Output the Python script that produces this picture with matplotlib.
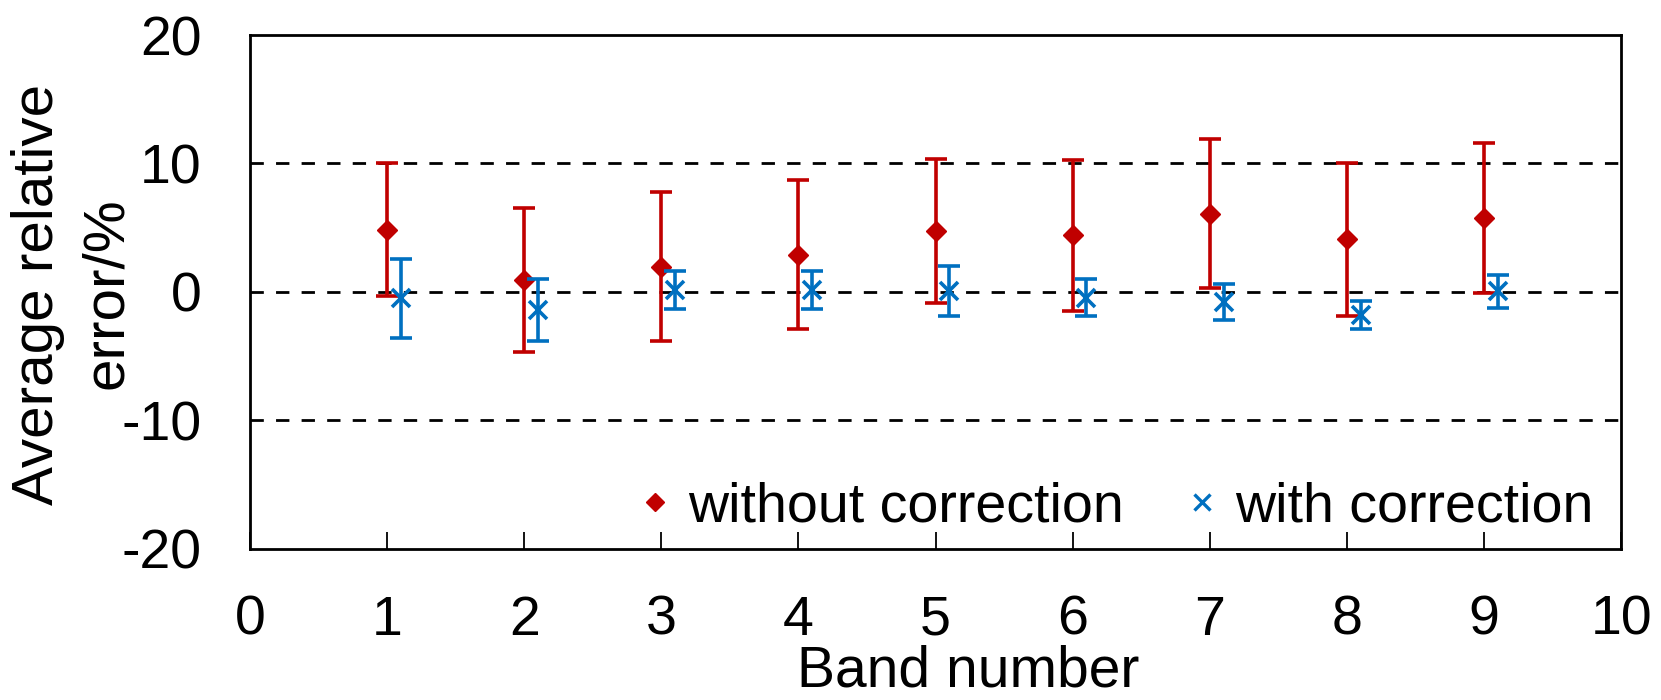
import matplotlib
matplotlib.use('Agg')
import matplotlib.pyplot as plt
from matplotlib.lines import Line2D
import numpy as np

plt.rcParams['font.family'] = ['Liberation Sans', 'DejaVu Sans']
plt.rcParams['axes.unicode_minus'] = False

# values
bands = np.arange(1, 10)
without_mean = [4.85, 0.9, 1.95, 2.9, 4.75, 4.4, 6.1, 4.1, 5.75]
without_err = [5.15, 5.6, 5.8, 5.8, 5.6, 5.9, 5.8, 5.95, 5.85]
with_mean = [-0.5, -1.4, 0.15, 0.15, 0.05, -0.45, -0.8, -1.8, 0.05]
with_err = [3.1, 2.4, 1.5, 1.45, 1.95, 1.43, 1.42, 1.1, 1.3]
x_ticks = list(range(0, 11))
y_ticks = [-20, -10, 0, 10, 20]

red = '#C00000'
blue = '#0070C0'
fs = 40

fig = plt.figure(figsize=(16.61, 7.0), dpi=100)
ax = fig.add_axes([0.1505, 0.216, 0.8255, 0.734])

ax.errorbar(bands, without_mean, yerr=without_err, fmt='D', color=red, ms=10,
            elinewidth=2.6, capsize=8, capthick=2.6, zorder=3)
ax.errorbar(bands + 0.1, with_mean, yerr=with_err, fmt='x', color=blue, ms=13,
            mew=2.6, elinewidth=2.6, capsize=8, capthick=2.6, zorder=4)

ax.set_xlim(0, 10)
ax.set_ylim(-20, 20)
ax.set_xticks(x_ticks)
ax.set_yticks(y_ticks)
ax.yaxis.grid(True, color='black', linestyle=(0, (4.8, 4.4)), linewidth=2)
gl = ax.yaxis.get_gridlines()
gl[0].set_visible(False)
gl[-1].set_visible(False)
ax.set_axisbelow(True)

ax.tick_params(axis='x', direction='in', length=12, width=1.3, pad=33, labelsize=fs)
ax.tick_params(axis='y', length=0, pad=35, labelsize=fs)
for s in ax.spines.values():
    s.set_linewidth(2)

ax.set_xlabel('Band number', fontsize=41, va='baseline')
ax.xaxis.set_label_coords(0.524, -0.2685)

# two-line y label, each line placed on its own like the original
fig.text(0.023, 0.58, 'Average relative', rotation=90, fontsize=42,
         ha='center', va='center')
fig.text(0.0643, 0.581, 'error/%', rotation=90, fontsize=42,
         ha='center', va='center')

handles = [Line2D([], [], ls='none', marker='D', color=red, ms=9),
           Line2D([], [], ls='none', marker='x', color=blue, ms=11, mew=2.4)]
ax.legend(handles, ['without correction', 'with correction'], ncol=2,
          loc='center right', bbox_to_anchor=(0.98, 0.08), frameon=False,
          fontsize=fs, handlelength=0.6, handletextpad=0.3, columnspacing=1.1,
          borderpad=0, borderaxespad=0)

fig.savefig('out.png', dpi=100)
